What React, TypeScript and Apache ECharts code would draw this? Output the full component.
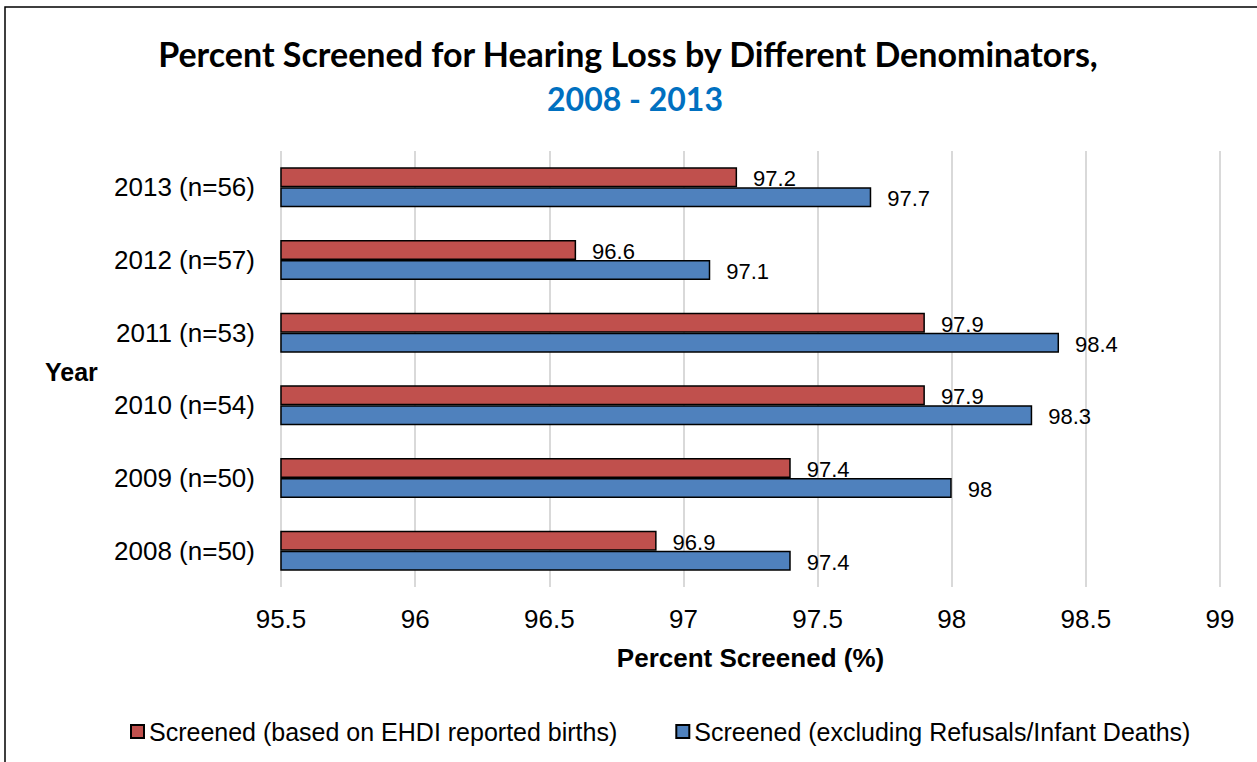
import React, { useEffect, useRef } from "react";
import * as echarts from "echarts";

const categories = [
  "2013 (n=56)",
  "2012 (n=57)",
  "2011 (n=53)",
  "2010 (n=54)",
  "2009 (n=50)",
  "2008 (n=50)",
];
const ehdiBirths = [97.2, 96.6, 97.9, 97.9, 97.4, 96.9];
const excludingRefusals = [97.7, 97.1, 98.4, 98.3, 98.0, 97.4];
const seriesNames = [
  "Screened (based on EHDI reported births)",
  "Screened (excluding Refusals/Infant Deaths)",
];
const titleLine1 = "Percent Screened for Hearing Loss by Different Denominators,";
const titleLine2 = "2008 - 2013";

const FONT = "'Liberation Sans', Arial, sans-serif";

export default function App() {
  const ref = useRef<HTMLDivElement>(null);
  useEffect(() => {
    if (!ref.current) return;
    const chart = echarts.init(ref.current, undefined, { renderer: "svg" });
    const labelCfg = {
      show: true,
      position: "right" as const,
      distance: 16,
      offset: [0, 1.5],
      color: "#000",
      fontSize: 22,
      fontFamily: FONT,
    };
    chart.setOption({
      animation: false,
      backgroundColor: "#fff",
      textStyle: { fontFamily: FONT },
      graphic: [
        {
          type: "rect",
          shape: { x: 5, y: 7, width: 1260, height: 770 },
          style: { fill: "none", stroke: "#000", lineWidth: 1.5 },
          silent: true,
        },
        {
          type: "text",
          x: 628,
          y: 53,
          style: {
            text: titleLine1,
            fontFamily: "Lato",
            fontWeight: "bold",
            fontSize: 34,
            fill: "#000",
            align: "center",
            verticalAlign: "middle",
          },
        },
        {
          type: "text",
          x: 635,
          y: 98,
          style: {
            text: titleLine2,
            fontFamily: "Lato",
            fontWeight: "bold",
            fontSize: 32,
            fill: "#0070C0",
            align: "center",
            verticalAlign: "middle",
          },
        },
        {
          type: "text",
          x: 45,
          y: 372,
          style: {
            text: "Year",
            fontFamily: FONT,
            fontWeight: "bold",
            fontSize: 25,
            fill: "#000",
            verticalAlign: "middle",
          },
        },
      ],
      legend: {
        top: 714,
        left: 125,
        itemGap: 58,
        itemWidth: 13,
        itemHeight: 13,
        icon: "rect",
        textStyle: { fontSize: 25, color: "#000", fontFamily: FONT },
        data: seriesNames,
      },
      grid: { left: 281, right: 37, top: 151, bottom: 175, containLabel: false },
      xAxis: {
        type: "value",
        min: 95.5,
        max: 99,
        interval: 0.5,
        name: "Percent Screened (%)",
        nameLocation: "middle",
        nameGap: 58,
        nameTextStyle: { fontWeight: "bold", fontSize: 26, color: "#000", fontFamily: FONT },
        axisLine: { show: false },
        axisTick: { show: false },
        axisLabel: { fontSize: 26, color: "#000", margin: 19, fontFamily: FONT },
        splitLine: { show: true, lineStyle: { color: "#D9D9D9", width: 2 } },
      },
      yAxis: {
        type: "category",
        inverse: true,
        data: categories,
        axisLine: { show: false },
        axisTick: { show: false },
        axisLabel: { fontSize: 26, color: "#000", margin: 26, fontFamily: FONT },
      },
      series: [
        {
          name: seriesNames[0],
          type: "bar",
          data: ehdiBirths,
          barWidth: 20,
          barGap: "0%",
          itemStyle: { color: "#C0504D", borderColor: "#000", borderWidth: 1.5 },
          label: labelCfg,
        },
        {
          name: seriesNames[1],
          type: "bar",
          data: excludingRefusals,
          barWidth: 20,
          barGap: "0%",
          itemStyle: { color: "#4F81BD", borderColor: "#000", borderWidth: 1.5 },
          label: labelCfg,
        },
      ],
    });
    return () => chart.dispose();
  }, []);
  return (
    <div
      ref={ref}
      style={{ position: "fixed", left: 0, top: 0, width: 1257, height: 762 }}
    />
  );
}
